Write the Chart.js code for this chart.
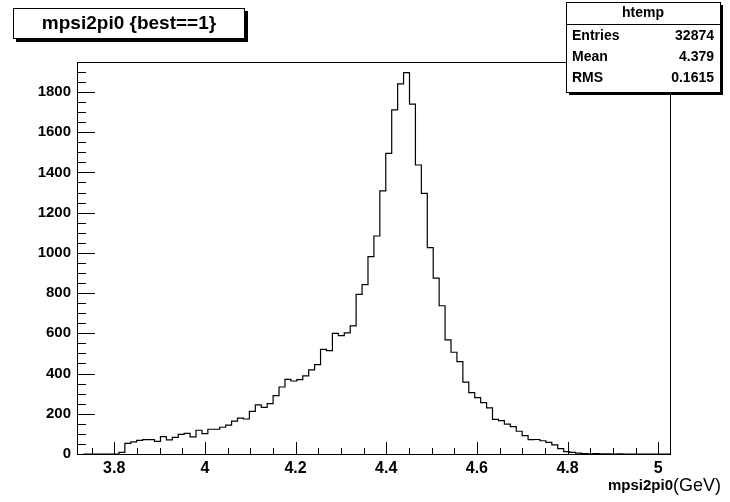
<!DOCTYPE html>
<html><head><meta charset="utf-8">
<script src="https://cdn.jsdelivr.net/npm/chart.js@4"></script>
<style>html,body{margin:0;background:#fff}#wrap{width:730px;height:502px}</style>
</head><body><div id="wrap"><canvas id="c"></canvas></div>
<script>
// axis range and histogram binning (100 bins)
const xMin = 3.718;
const xMax = 5.026;
const binStart = 3.732;
const binWidth = 0.01308;
const binCounts = [
  0,0,0,0,0,0,0,8,53,60,
  68,71,71,63,86,70,83,98,103,85,
  118,101,123,123,133,144,163,178,174,212,
  244,232,250,290,333,371,363,370,388,418,
  444,520,514,600,589,602,637,794,842,981,
  1084,1308,1495,1711,1840,1896,1740,1437,1296,1026,
  874,737,567,506,459,357,305,280,255,229,
  172,166,149,136,113,91,71,72,66,58,
  45,27,12,8,4,2,1,2,1,1,
  0,1,0,0,0,0,0,0,0,0
];
const xTicks = [3.8, 4.0, 4.2, 4.4, 4.6, 4.8, 5.0];
const yTicks = [0, 200, 400, 600, 800, 1000, 1200, 1400, 1600, 1800];
const statsRows = [['Entries', '32874'], ['Mean', '4.379'], ['RMS', '0.1615']];

const steps = binCounts.map((v, i) => ({ x: binStart + i * binWidth, y: v }));
steps.push({ x: binStart + binCounts.length * binWidth, y: binCounts[binCounts.length - 1] });

const FONT = 'Liberation Sans, Arial, sans-serif';

// ROOT style decorations: inside ticks, frame, title and stats boxes
const rootDecor = {
  id: 'rootDecor',
  afterDraw(chart) {
    const { ctx, chartArea: a, scales: { x, y } } = chart;
    ctx.save();
    ctx.strokeStyle = '#000';
    ctx.lineWidth = 1;
    ctx.strokeRect(a.left + 0.5, a.top + 0.5, a.right - a.left, a.bottom - a.top);
    ctx.beginPath();
    for (let v = 3.75; v <= xMax; v += 0.05) {
      const px = Math.round(x.getPixelForValue(v)) + 0.5;
      const major = Math.abs(v * 5 - Math.round(v * 5)) < 1e-6;
      ctx.moveTo(px, a.bottom); ctx.lineTo(px, a.bottom - (major ? 12 : 6));
    }
    for (let v = 0; v <= y.max; v += 50) {
      const py = Math.round(y.getPixelForValue(v)) + 0.5;
      const major = v % 200 === 0;
      ctx.moveTo(a.left, py); ctx.lineTo(a.left + (major ? 18 : 9), py);
    }
    ctx.stroke();

    // title box with shadow
    ctx.fillStyle = '#000';
    ctx.fillRect(16, 11, 232, 31);
    ctx.fillStyle = '#fff';
    ctx.fillRect(13, 8, 232, 31);
    ctx.strokeRect(13.5, 8.5, 231, 30);
    ctx.fillStyle = '#000';
    ctx.font = 'bold 19px ' + FONT;
    ctx.textBaseline = 'middle';
    ctx.textAlign = 'center';
    ctx.fillText('mpsi2pi0 {best==1}', 129, 24);

    // stats box
    const sx = 566, sy = 2, sw = 154, rowH = 22;
    ctx.fillStyle = '#000';
    ctx.fillRect(sx + 3, sy + 3, sw, 90);
    ctx.fillStyle = '#fff';
    ctx.fillRect(sx, sy, sw, 90);
    ctx.strokeRect(sx + 0.5, sy + 0.5, sw, 90);
    ctx.beginPath();
    ctx.moveTo(sx, sy + rowH + 0.5); ctx.lineTo(sx + sw, sy + rowH + 0.5);
    ctx.stroke();
    ctx.fillStyle = '#000';
    ctx.font = 'bold 14px ' + FONT;
    ctx.fillText('htemp', sx + sw / 2, sy + 11);
    statsRows.forEach((r, i) => {
      const ry = sy + 34 + i * 21;
      ctx.textAlign = 'left';
      ctx.fillText(r[0], sx + 6, ry);
      ctx.textAlign = 'right';
      ctx.fillText(r[1], sx + sw - 6, ry);
    });

    // axis title
    ctx.textAlign = 'right';
    ctx.textBaseline = 'alphabetic';
    ctx.font = '18px ' + FONT;
    const unit = '(GeV)';
    const uw = ctx.measureText(unit).width;
    ctx.fillText(unit, 721, 491);
    ctx.font = 'bold 15px ' + FONT;
    ctx.fillText('mpsi2pi0', 721 - uw, 490);
    ctx.restore();
  }
};

new Chart(document.getElementById('c'), {
  type: 'scatter',
  data: {
    datasets: [{
      data: steps,
      showLine: true,
      stepped: 'after',
      borderColor: '#000',
      borderWidth: 1.2,
      pointRadius: 0,
      fill: false
    }]
  },
  options: {
    responsive: true,
    maintainAspectRatio: false,
    animation: false,
    layout: { padding: { top: 62, right: 60, left: 0, bottom: 0 } },
    plugins: { legend: { display: false }, tooltip: { enabled: false } },
    scales: {
      x: {
        type: 'linear', min: xMin, max: xMax,
        afterBuildTicks: s => { s.ticks = xTicks.map(v => ({ value: v })); },
        afterFit: s => { s.height = 48; },
        grid: { display: false, drawTicks: false },
        border: { display: false },
        ticks: {
          color: '#000', padding: 5,
          font: { family: FONT, size: 16, weight: 'bold' },
          callback: v => (Math.abs(v - Math.round(v)) < 1e-9 ? String(Math.round(v)) : v.toFixed(1))
        }
      },
      y: {
        type: 'linear', min: 0, max: 1949,
        afterBuildTicks: s => { s.ticks = yTicks.map(v => ({ value: v })); },
        afterFit: s => { s.width = 77; },
        grid: { display: false, drawTicks: false },
        border: { display: false },
        ticks: {
          color: '#000', padding: 6,
          font: { family: FONT, size: 15, weight: 'bold' },
          callback: v => String(v)
        }
      }
    }
  },
  plugins: [rootDecor]
});
</script>
</body></html>
